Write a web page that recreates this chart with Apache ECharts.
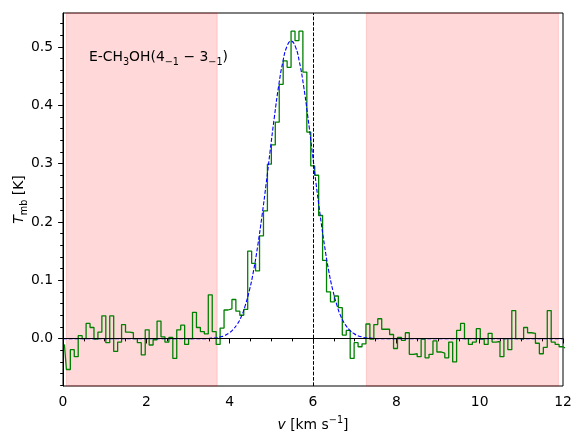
<!DOCTYPE html>
<html><head><meta charset="utf-8">
<script src="https://cdn.jsdelivr.net/npm/echarts@6/dist/echarts.min.js"></script>
<style>html,body{margin:0;padding:0;background:#fff}#c{width:574px;height:433px}</style>
</head><body><div id="c"></div>
<script>
// channel grid of the spectrum (km/s)
const channelStart = 0.034;
const channelWidth = 0.0946;
// main-beam temperature per channel (K)
const tmb = [
  -0.010, -0.053, -0.019, -0.031, 0.005, 0.000, 0.026, 0.019, -0.001, 0.011,
  0.039, -0.007, 0.039, -0.022, -0.006, 0.024, 0.011, 0.010, 0.000, -0.007,
  -0.028, 0.015, -0.011, -0.002, 0.030, 0.003, -0.006, 0.002, -0.034, 0.015,
  0.023, -0.010, 0.000, 0.045, 0.019, 0.012, 0.008, 0.075, 0.012, -0.010,
  0.018, 0.049, 0.051, 0.067, 0.047, 0.040, 0.050, 0.150, 0.129, 0.116,
  0.176, 0.219, 0.299, 0.332, 0.371, 0.436, 0.476, 0.465, 0.527, 0.511,
  0.527, 0.457, 0.354, 0.296, 0.280, 0.211, 0.134, 0.080, 0.063, 0.073,
  0.053, 0.006, 0.014, -0.034, -0.007, -0.014, -0.009, 0.025, -0.001, 0.024,
  0.034, 0.016, 0.016, 0.007, -0.017, 0.002, -0.003, 0.010, -0.027, -0.026,
  -0.031, -0.001, -0.033, -0.027, -0.004, -0.023, -0.025, -0.033, -0.006, -0.040,
  0.014, 0.026, 0.000, -0.010, -0.006, 0.017, -0.001, -0.010, 0.009, -0.006,
  -0.005, -0.031, 0.000, -0.019, 0.048, 0.000, -0.001, 0.019, 0.010, 0.009,
  -0.008, -0.026, -0.015, 0.048, -0.006, -0.010, -0.014, -0.016
];
// Gaussian fit, sampled (km/s, K)
const fitV = [0, 3.475, 3.575, 3.675, 3.775, 3.875, 3.975, 4.075, 4.175, 4.275, 4.375,
  4.475, 4.575, 4.675, 4.775, 4.875, 4.975, 5.075, 5.175, 5.275, 5.375,
  5.475, 5.575, 5.675, 5.775, 5.875, 5.975, 6.075, 6.175, 6.275, 6.375,
  6.475, 6.575, 6.675, 6.775, 6.875, 6.975, 7.075, 7.175, 7.275, 7.375, 7.475, 12];
const fitT = [0, 0.000, 0.001, 0.001, 0.003, 0.005, 0.009, 0.015, 0.024, 0.037, 0.057,
  0.083, 0.117, 0.160, 0.210, 0.265, 0.324, 0.381, 0.433, 0.474, 0.501,
  0.510, 0.501, 0.474, 0.433, 0.381, 0.324, 0.265, 0.210, 0.160, 0.117,
  0.083, 0.057, 0.037, 0.024, 0.015, 0.009, 0.005, 0.003, 0.001, 0.001, 0.000, 0];
const baselineWindows = [[0.08, 3.70], [7.28, 11.89]];
const vSys = 6.0;
const xTicks = [0, 2, 4, 6, 8, 10, 12];
const yTicks = [0.0, 0.1, 0.2, 0.3, 0.4, 0.5];
const yMinorTicks = [-0.08, -0.06, -0.04, -0.02, 0.02, 0.04, 0.06, 0.08, 0.12, 0.14, 0.16, 0.18,
  0.22, 0.24, 0.26, 0.28, 0.32, 0.34, 0.36, 0.38, 0.42, 0.44, 0.46, 0.48, 0.52, 0.54];
const yMin = -0.0813, yMax = 0.5582;

const FONT = 'DejaVu Sans';
const FS = 13.9;
const specData = tmb.map((t, i) => [channelStart + i * channelWidth, t]);
const fitData = fitV.map((v, i) => [v, fitT[i]]);

const chart = echarts.init(document.getElementById('c'), null, {renderer: 'canvas'});
chart.setOption({
  animation: false,
  backgroundColor: '#fff',
  grid: {left: 63, right: 11, top: 13, bottom: 47, containLabel: false, outerBoundsMode: 'none',
    show: true, borderColor: '#000', borderWidth: 1, backgroundColor: 'transparent'},
  xAxis: {
    type: 'value', min: 0, max: 12, interval: 2,
    axisLine: {show: true, lineStyle: {color: '#000', width: 1}},
    axisTick: {show: true, length: 4.9, lineStyle: {color: '#000', width: 1}, customValues: xTicks},
    minorTick: {show: true, splitNumber: 4, length: 2.8, lineStyle: {color: '#000', width: 1}},
    axisLabel: {color: '#000', fontFamily: FONT, fontSize: FS, margin: 9, customValues: xTicks, formatter: v => String(v)},
    splitLine: {show: false}, minorSplitLine: {show: false},
    name: '{i|v} [km s{sup|−1}]', nameLocation: 'middle', nameGap: 29, nameMoveOverlap: false,
    nameTextStyle: {color: '#000', fontFamily: FONT, fontSize: FS, lineHeight: 20,
      rich: {i: {fontStyle: 'italic', fontFamily: FONT, fontSize: FS, lineHeight: 20},
             sup: {fontFamily: FONT, fontSize: 9.7, lineHeight: 10, verticalAlign: 'top'}}}
  },
  yAxis: [{
    type: 'value', min: yMin, max: yMax, position: 'left',
    axisLine: {show: true, lineStyle: {color: '#000', width: 1}},
    axisTick: {show: true, length: 4.9, lineStyle: {color: '#000', width: 1}, customValues: yTicks},
    axisLabel: {color: '#000', fontFamily: FONT, fontSize: FS, margin: 10, customValues: yTicks, formatter: v => v.toFixed(1)},
    splitLine: {show: false},
    name: '{i|T}{sub|mb} [K]', nameLocation: 'middle', nameRotate: 90, nameGap: 34, nameMoveOverlap: false,
    nameTextStyle: {color: '#000', fontFamily: FONT, fontSize: FS, lineHeight: 20,
      rich: {i: {fontStyle: 'italic', fontFamily: FONT, fontSize: FS, lineHeight: 20},
             sub: {fontFamily: FONT, fontSize: 9.7, lineHeight: 10, verticalAlign: 'bottom'}}}
  }, {
    type: 'value', min: yMin, max: yMax, position: 'left',
    axisLine: {show: false},
    axisTick: {show: true, length: 2.8, lineStyle: {color: '#000', width: 1}, customValues: yMinorTicks},
    axisLabel: {show: false}, splitLine: {show: false}
  }],
  graphic: [{
    type: 'text', left: 89, top: 47, z: 10,
    style: {
      text: 'E-CH{sub|3}OH(4{sub|−1} − 3{sub|−1})',
      fontFamily: FONT, fontSize: FS, fill: '#000', lineHeight: 20,
      rich: {sub: {fontFamily: FONT, fontSize: 9.7, lineHeight: 10, verticalAlign: 'bottom', fill: '#000'}}
    }
  }],
  series: [
    {type: 'line', data: [], z: 1, silent: true,
     markArea: {silent: true, itemStyle: {color: 'rgba(255,0,0,0.15)', borderColor: 'rgba(255,0,0,0.15)', borderWidth: 1},
       data: baselineWindows.map(w => [{xAxis: w[0]}, {xAxis: w[1]}])}},
    {type: 'line', data: [], z: 2, silent: true,
     markLine: {silent: true, symbol: ['none', 'none'], label: {show: false},
       data: [{yAxis: 0, lineStyle: {color: '#000', width: 1.2, type: 'solid'}}]}},
    {type: 'line', name: 'spectrum', data: specData, step: 'middle', symbol: 'none', showSymbol: false, clip: true, z: 3,
     lineStyle: {color: '#008000', width: 1.3}},
    {type: 'line', name: 'fit', data: fitData, smooth: true, symbol: 'none', showSymbol: false, clip: true, z: 4,
     lineStyle: {color: '#0000ff', width: 1.1, type: [4, 1.8]}},
    {type: 'line', data: [], z: 5, silent: true,
     markLine: {silent: true, symbol: ['none', 'none'], label: {show: false},
       data: [{xAxis: vSys, lineStyle: {color: '#000', width: 1, type: [3.7, 1.6]}}]}}
  ]
});
</script></body></html>
